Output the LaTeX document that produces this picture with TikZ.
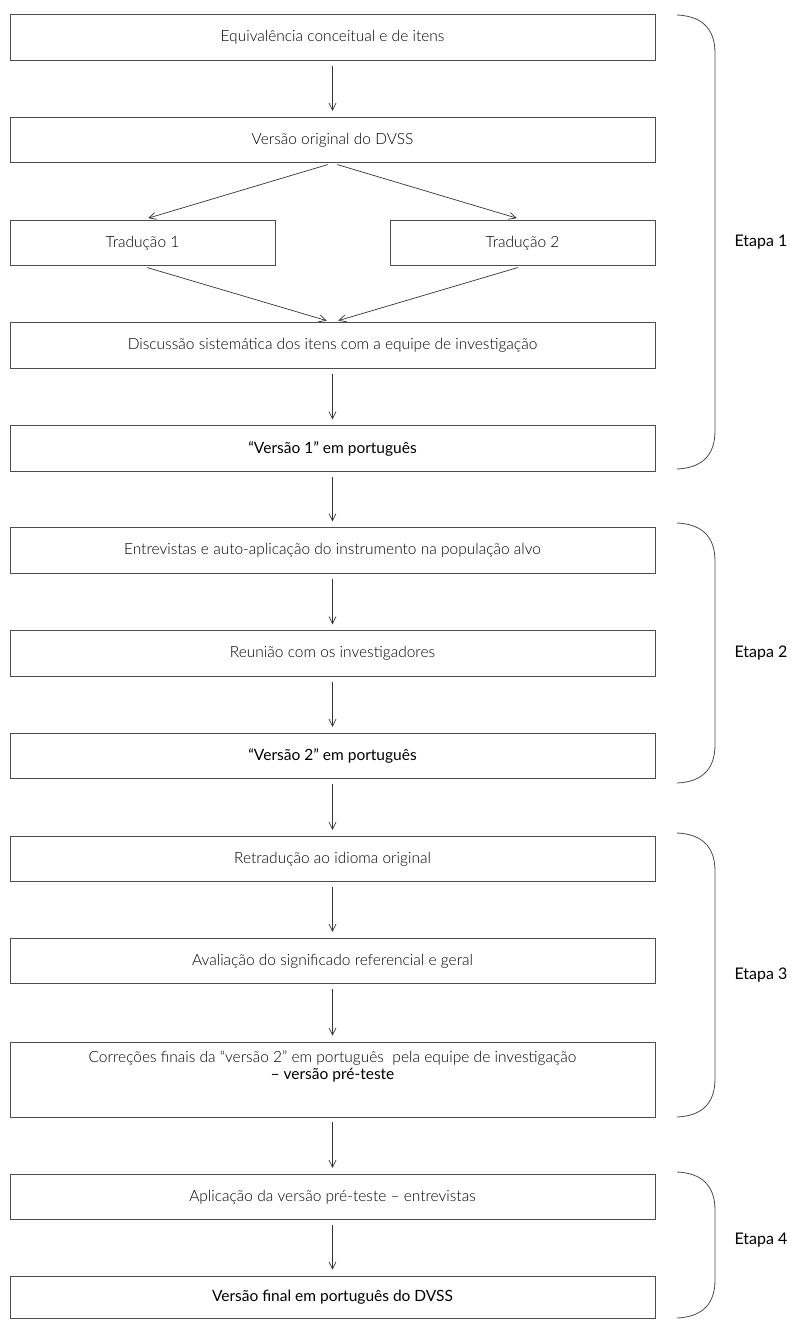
\documentclass[tikz,border=0pt]{standalone}
\usepackage{fontspec}
\setmainfont{Lato Light}[BoldFont=Lato]
\usetikzlibrary{arrows.meta}

\tikzset{
  stepbox/.style={draw=black!70, line width=0.8pt, minimum height=45.5pt, inner sep=0pt,
    font=\fontsize{15.5}{17}\selectfont, align=center},
  wide/.style={stepbox, minimum width=645pt},
  half/.style={stepbox, minimum width=265pt},
  flow/.style={-{Straight Barb[length=7pt,width=7pt]}, draw=black!80, line width=0.7pt,
    shorten >=6pt, shorten <=5pt},
  brace/.style={draw=black!70, line width=0.8pt},
  etapa/.style={anchor=west, font=\fontsize{16}{18}\selectfont\bfseries}
}

\begin{document}
\begin{tikzpicture}[x=1pt, y=-1pt]
  \useasboundingbox (0,0) rectangle (794,1320);

  % etapa 1
  \node[wide] (eq) at (332.5,37.5) {Equivalência conceitual e de itens};
  \node[wide] (orig) at (332.5,140) {Versão original do DVSS};
  \node[half] (tradA) at (142.5,243) {Tradução 1};
  \node[half] (tradB) at (522.5,243) {Tradução 2};
  \node[wide] (disc) at (332.5,345.5) {Discussão sistemática dos itens com a equipe de investigação};
  \node[wide] (verA) at (332.5,448.5) {\textbf{“Versão 1” em português}};

  % etapa 2
  \node[wide] (entr) at (332.5,550.5) {Entrevistas e auto-aplicação do instrumento na população alvo};
  \node[wide] (reun) at (332.5,653.5) {Reunião com os investigadores};
  \node[wide] (verB) at (332.5,756) {\textbf{“Versão 2” em português}};

  % etapa 3
  \node[wide] (retr) at (332.5,859) {Retradução ao idioma original};
  \node[wide] (aval) at (332.5,961) {Avaliação do significado referencial e geral};
  \node[wide, minimum height=75pt] (corr) at (332.5,1079.5)
    {\raisebox{8pt}[0pt][0pt]{\begin{tabular}{@{}c@{}}
      Correções finais da “versão 2” em português\ \ pela equipe de investigação\\
      \textbf{– versão pré-teste}\end{tabular}}};

  % etapa 4
  \node[wide] (apli) at (332.5,1197) {Aplicação da versão pré-teste – entrevistas};
  \node[wide, minimum height=42pt] (final) at (332.5,1297) {\textbf{Versão final em português do DVSS}};

  \foreach \a/\b in {eq/orig, disc/verA, verA/entr, entr/reun, reun/verB,
                     verB/retr, retr/aval, aval/corr, corr/apli, apli/final}
    \draw[flow] (\a) -- (\b);
  \draw[flow] (orig.south) -- (tradA.north);
  \draw[flow] (orig.south) -- (tradB.north);
  \draw[flow] (tradA.south) -- (disc.north);
  \draw[flow] (tradB.south) -- (disc.north);

  \foreach \t/\b/\m/\n in {15/469/242/1, 523/783/653/2, 833/1117/975/3, 1172/1318/1240/4} {
    \draw[brace] (677,\t) .. controls (700,\t+1) and (715,\t+12) .. (715,\t+38)
      -- (715,\b-38) .. controls (715,\b-12) and (700,\b-1) .. (677,\b);
    \node[etapa] (etapa\n) at (731,\m) {Etapa \n};
  }
\end{tikzpicture}
\end{document}
